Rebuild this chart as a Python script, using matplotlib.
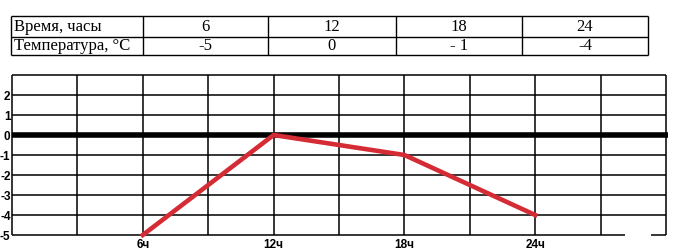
import matplotlib
matplotlib.use("Agg")
import matplotlib.pyplot as plt

# data
hours = [6, 12, 18, 24]
temps = [-5, 0, -1, -4]
table_hours = ["6", "12", "18", "24"]
table_temps = ["-5", "0", "- 1", "-4"]
row_labels = ["Время, часы", "Температура, °C"]
y_ticks = [-5, -4, -3, -2, -1, 0, 1, 2]
x_tick_hours = [6, 12, 18, 24]
x_tick_labels = ["6ч", "12ч", "18ч", "24ч"]

W, H = 687, 250
DPI = 100
fig = plt.figure(figsize=(W / DPI, H / DPI), dpi=DPI)
fig.patch.set_facecolor("white")

# ---- table (pixel-coordinate overlay) ----
tab = fig.add_axes([0, 0, 1, 1])
tab.set_xlim(0, W)
tab.set_ylim(H, 0)
tab.axis("off")
col_x = [11, 143, 268, 396, 522, 648]
row_y = [16, 36.5, 55]
lw_t = 1.0
for x in col_x:
    tab.plot([x, x], [row_y[0], row_y[-1]], color="black", lw=lw_t, solid_capstyle="butt")
for y in row_y:
    tab.plot([col_x[0], col_x[-1]], [y, y], color="black", lw=lw_t, solid_capstyle="butt")
serif = ["Liberation Serif", "DejaVu Serif"]
fs_t = 12
for r, lab in enumerate(row_labels):
    yc = (row_y[r] + row_y[r + 1]) / 2 + 0.5
    tab.text(col_x[0] + 3, yc, lab, family=serif, fontsize=fs_t, ha="left", va="center")
    vals = table_hours if r == 0 else table_temps
    for c, v in enumerate(vals):
        xc = (col_x[c + 1] + col_x[c + 2]) / 2
        tab.text(xc, yc, v, family=serif, fontsize=fs_t, ha="center", va="center")

# ---- chart ----
left, right, top, bottom = 12, 666, 75, 235
ax = fig.add_axes([left / W, (H - bottom) / H, (right - left) / W, (bottom - top) / H])
ax.set_xlim(0, 30)
ax.set_ylim(-5, 3)
for s in ax.spines.values():
    s.set_visible(False)
ax.set_facecolor("none")

glw = 1.1
for xv in range(0, 31, 3):
    ax.plot([xv, xv], [-5, 3], color="black", lw=glw, clip_on=False, solid_capstyle="butt")
for yv in range(-4, 4):
    ax.plot([0, 30], [yv, yv], color="black", lw=glw, clip_on=False, solid_capstyle="butt")
# bottom line with a gap near the right end
ax.plot([0, 28.1], [-5, -5], color="black", lw=glw, clip_on=False, solid_capstyle="butt")
ax.plot([29.3, 30], [-5, -5], color="black", lw=glw, clip_on=False, solid_capstyle="butt")
# thick zero line
ax.plot([0, 30.1], [0, 0], color="black", lw=4.0, clip_on=False, solid_capstyle="butt", zorder=3)

ax.plot(hours, temps, color="#d52b35", lw=3.3, clip_on=False, zorder=4, solid_joinstyle="miter")

ax.set_yticks(y_ticks)
ax.set_yticklabels([str(v) for v in y_ticks])
ax.set_xticks(x_tick_hours)
ax.set_xticklabels(x_tick_labels)
ax.tick_params(axis="both", length=0, labelsize=8.5)
ax.tick_params(axis="y", pad=1)
ax.tick_params(axis="x", pad=3)
for lab in ax.get_yticklabels() + ax.get_xticklabels():
    lab.set_fontweight("bold")
    lab.set_family(["Liberation Sans", "DejaVu Sans"])

fig.savefig("out.png", dpi=DPI, facecolor="white")
